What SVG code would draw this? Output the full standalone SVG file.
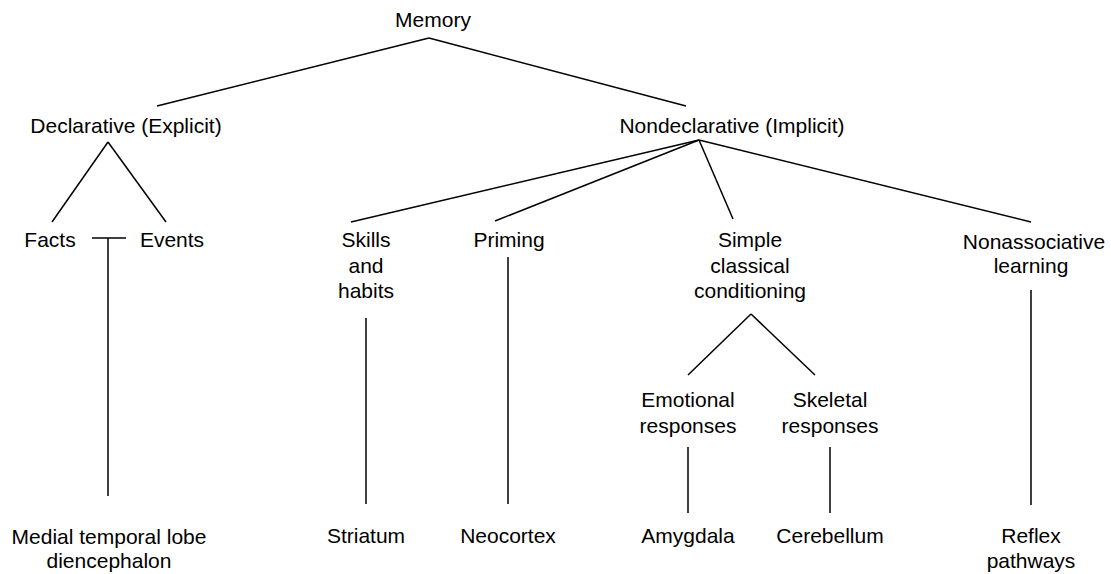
<svg xmlns="http://www.w3.org/2000/svg" width="1111" height="574" viewBox="0 0 1111 574">
<style>
text{font-family:"Liberation Sans",Arial,sans-serif;font-size:21px;fill:#000;text-anchor:middle}
.c line{stroke:#000;stroke-width:1.5;fill:none}
</style>
<rect width="1111" height="574" fill="#fff"/>
<g class="c" id="connectors">
<line x1="157" y1="106" x2="429" y2="38"/>
<line x1="429" y1="38" x2="686" y2="106"/>
<line x1="52" y1="222" x2="108" y2="142"/>
<line x1="108" y1="142" x2="166" y2="222"/>
<line x1="92" y1="238" x2="126" y2="238"/>
<line x1="108" y1="238" x2="108" y2="496"/>
<line x1="351" y1="222" x2="699" y2="140"/>
<line x1="495" y1="221" x2="699" y2="140"/>
<line x1="699" y1="140" x2="733" y2="219"/>
<line x1="699" y1="140" x2="1031" y2="222"/>
<line x1="366" y1="318" x2="366" y2="504"/>
<line x1="508" y1="257" x2="508" y2="504"/>
<line x1="751" y1="314" x2="688" y2="375"/>
<line x1="751" y1="314" x2="815" y2="375"/>
<line x1="688" y1="447" x2="688" y2="513"/>
<line x1="830" y1="447" x2="830" y2="513"/>
<line x1="1031" y1="290" x2="1031" y2="505"/>
</g>
<g id="memory"><text x="433" y="27">Memory</text></g>
<g id="declarative"><text x="126" y="133">Declarative (Explicit)</text></g>
<g id="nondeclarative"><text x="732" y="133">Nondeclarative (Implicit)</text></g>
<g id="facts"><text x="50" y="247">Facts</text></g>
<g id="events"><text x="172" y="247">Events</text></g>
<g id="skills"><text x="366" y="247">Skills</text><text x="366" y="273">and</text><text x="366" y="298">habits</text></g>
<g id="priming"><text x="509" y="247">Priming</text></g>
<g id="simple"><text x="750" y="247">Simple</text><text x="750" y="273">classical</text><text x="750" y="298">conditioning</text></g>
<g id="nonassociative"><text x="1034" y="249">Nonassociative</text><text x="1031" y="273">learning</text></g>
<g id="emotional"><text x="688" y="407">Emotional</text><text x="688" y="433">responses</text></g>
<g id="skeletal"><text x="830" y="407">Skeletal</text><text x="830" y="433">responses</text></g>
<g id="mtl"><text x="109" y="544">Medial temporal lobe</text><text x="109" y="568">diencephalon</text></g>
<g id="striatum"><text x="366" y="543">Striatum</text></g>
<g id="neocortex"><text x="508" y="543">Neocortex</text></g>
<g id="amygdala"><text x="688" y="543">Amygdala</text></g>
<g id="cerebellum"><text x="830" y="543">Cerebellum</text></g>
<g id="reflex"><text x="1031" y="543">Reflex</text><text x="1031" y="568">pathways</text></g>
</svg>
